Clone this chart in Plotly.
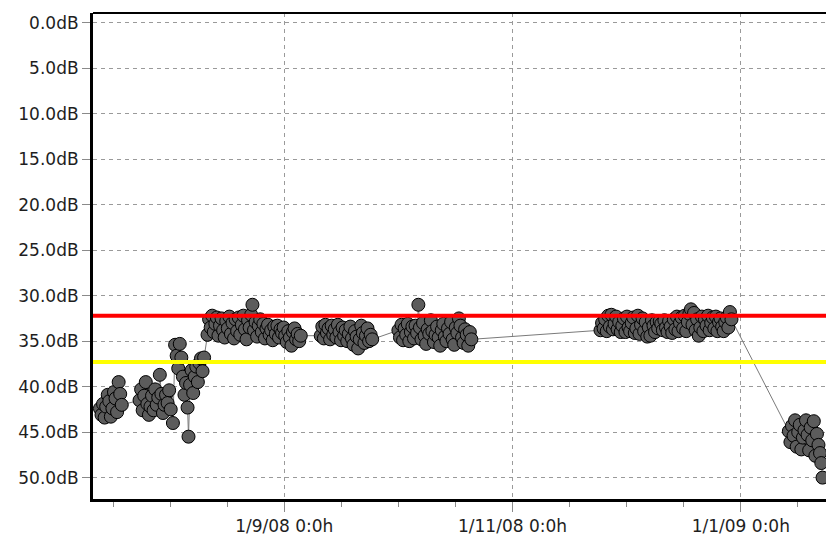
import plotly.graph_objects as go
import pandas as pd

# ---------------- data ----------------
seg1_time = ["2008-07-13 18:00", "2008-07-14 04:00", "2008-07-14 14:00", "2008-07-15 00:00", "2008-07-15 10:00",
             "2008-07-15 20:00", "2008-07-16 06:00", "2008-07-16 16:00", "2008-07-17 02:00", "2008-07-17 12:00",
             "2008-07-17 22:00", "2008-07-18 08:00", "2008-07-18 18:00", "2008-07-19 04:00", "2008-07-19 14:00"]
seg1_db = [42.4, 43.1, 41.9, 43.4, 42.2, 40.9, 41.6, 43.3, 42.4, 40.6, 41.3, 42.8, 39.5, 40.8, 42.0]

seg2_time = ["2008-07-24 08:00", "2008-07-24 18:00", "2008-07-25 04:00", "2008-07-25 14:00", "2008-07-26 00:00",
             "2008-07-26 10:00", "2008-07-26 20:00", "2008-07-27 06:00", "2008-07-27 16:00", "2008-07-28 02:00",
             "2008-07-28 12:00", "2008-07-28 22:00", "2008-07-29 08:00", "2008-07-29 18:00", "2008-07-30 04:00",
             "2008-07-30 14:00", "2008-07-31 00:00", "2008-07-31 10:00", "2008-07-31 20:00", "2008-08-01 06:00",
             "2008-08-01 16:00", "2008-08-02 06:00"]
seg2_db = [41.5, 40.3, 42.6, 41.0, 39.5, 41.9, 43.1, 42.2, 41.0, 42.6, 40.3, 42.0, 41.2, 38.7, 40.8,
           42.9, 42.0, 40.9, 41.8, 40.4, 42.5, 44.0]

seg3_time = ["2008-08-02 20:00", "2008-08-03 06:00", "2008-08-03 16:00", "2008-08-04 02:00", "2008-08-04 12:00",
             "2008-08-04 22:00", "2008-08-05 08:00", "2008-08-05 18:00", "2008-08-06 04:00", "2008-08-06 10:00",
             "2008-08-06 20:00", "2008-08-07 06:00", "2008-08-07 16:00", "2008-08-08 02:00", "2008-08-08 12:00",
             "2008-08-08 22:00", "2008-08-09 08:00", "2008-08-09 18:00", "2008-08-10 04:00", "2008-08-10 14:00"]
seg3_db = [35.4, 36.6, 38.0, 35.3, 36.8, 38.9, 40.9, 39.6, 42.3, 45.5,
           39.8, 38.2, 40.7, 38.9, 37.8, 39.5, 37.4, 36.9, 38.3, 36.8]

seg4_time = ["2008-08-11 12:00", "2008-08-11 22:00", "2008-08-12 08:00", "2008-08-12 18:00", "2008-08-13 04:00",
             "2008-08-13 14:00", "2008-08-14 00:00", "2008-08-14 10:00", "2008-08-14 20:00", "2008-08-15 06:00",
             "2008-08-15 16:00", "2008-08-16 02:00", "2008-08-16 12:00", "2008-08-16 22:00", "2008-08-17 08:00",
             "2008-08-17 18:00", "2008-08-18 04:00", "2008-08-18 14:00", "2008-08-19 00:00", "2008-08-19 10:00",
             "2008-08-19 20:00", "2008-08-20 06:00", "2008-08-20 16:00", "2008-08-21 02:00", "2008-08-21 12:00",
             "2008-08-21 22:00", "2008-08-22 08:00", "2008-08-22 18:00", "2008-08-23 04:00", "2008-08-23 12:00",
             "2008-08-23 22:00", "2008-08-24 08:00", "2008-08-24 18:00", "2008-08-25 04:00", "2008-08-25 14:00",
             "2008-08-26 00:00", "2008-08-26 10:00", "2008-08-26 20:00", "2008-08-27 06:00", "2008-08-27 16:00",
             "2008-08-28 02:00", "2008-08-28 12:00", "2008-08-28 22:00", "2008-08-29 08:00", "2008-08-29 18:00",
             "2008-08-30 04:00", "2008-08-30 14:00", "2008-08-31 00:00", "2008-08-31 10:00", "2008-08-31 20:00",
             "2008-09-01 06:00", "2008-09-01 16:00", "2008-09-02 02:00", "2008-09-02 12:00", "2008-09-02 22:00",
             "2008-09-03 08:00", "2008-09-03 18:00", "2008-09-04 04:00", "2008-09-04 14:00", "2008-09-05 00:00",
             "2008-09-05 10:00"]
seg4_db = [34.3, 32.6, 33.5, 32.2, 34.0, 33.1, 32.4, 34.4, 33.3, 32.5,
           33.8, 34.6, 32.8, 33.6, 32.3, 34.2, 33.0, 34.7, 32.6, 33.9,
           32.4, 34.3, 33.2, 32.2, 33.7, 34.8, 32.7, 33.5, 32.1, 31.0,
           33.8, 32.9, 34.5, 33.3, 32.6, 34.0, 33.1, 34.7, 33.6, 33.2,
           34.3, 33.8, 34.9, 33.4, 34.2, 33.3, 34.6, 33.7, 34.1, 33.5,
           34.4, 35.1, 33.9, 34.6, 35.5, 34.0, 33.6, 34.8, 34.2, 35.0,
           34.4]

seg5_time = ["2008-09-10 18:00", "2008-09-11 04:00", "2008-09-11 14:00", "2008-09-12 00:00", "2008-09-12 10:00",
             "2008-09-12 20:00", "2008-09-13 06:00", "2008-09-13 16:00", "2008-09-14 02:00", "2008-09-14 12:00",
             "2008-09-14 22:00", "2008-09-15 08:00", "2008-09-15 18:00", "2008-09-16 04:00", "2008-09-16 14:00",
             "2008-09-17 00:00", "2008-09-17 10:00", "2008-09-17 20:00", "2008-09-18 06:00", "2008-09-18 16:00",
             "2008-09-19 02:00", "2008-09-19 12:00", "2008-09-19 22:00", "2008-09-20 08:00", "2008-09-20 18:00",
             "2008-09-21 04:00", "2008-09-21 14:00", "2008-09-22 00:00", "2008-09-22 10:00", "2008-09-22 20:00",
             "2008-09-23 06:00", "2008-09-23 16:00", "2008-09-24 02:00", "2008-09-24 12:00"]
seg5_db = [34.4, 33.4, 34.7, 33.2, 34.1, 33.6, 34.8, 33.3, 34.3, 33.7,
           34.6, 33.2, 34.0, 34.9, 33.5, 34.4, 33.8, 35.0, 34.2, 33.4,
           34.7, 35.4, 33.9, 34.5, 35.8, 34.8, 33.3, 34.1, 35.2, 34.4,
           33.6, 35.0, 34.3, 34.8]

seg6_time = ["2008-10-01 12:00", "2008-10-01 22:00", "2008-10-02 08:00", "2008-10-02 18:00", "2008-10-03 04:00",
             "2008-10-03 14:00", "2008-10-04 00:00", "2008-10-04 10:00", "2008-10-04 20:00", "2008-10-05 06:00",
             "2008-10-05 16:00", "2008-10-06 02:00", "2008-10-06 12:00", "2008-10-06 20:00", "2008-10-07 06:00",
             "2008-10-07 16:00", "2008-10-08 02:00", "2008-10-08 12:00", "2008-10-08 22:00", "2008-10-09 08:00",
             "2008-10-09 18:00", "2008-10-10 04:00", "2008-10-10 14:00", "2008-10-11 00:00", "2008-10-11 10:00",
             "2008-10-11 20:00", "2008-10-12 06:00", "2008-10-12 16:00", "2008-10-13 02:00", "2008-10-13 12:00",
             "2008-10-13 22:00", "2008-10-14 08:00", "2008-10-14 18:00", "2008-10-15 04:00", "2008-10-15 14:00",
             "2008-10-16 00:00", "2008-10-16 10:00", "2008-10-16 20:00", "2008-10-17 06:00", "2008-10-17 16:00",
             "2008-10-18 02:00", "2008-10-18 12:00", "2008-10-18 22:00", "2008-10-19 08:00", "2008-10-19 18:00",
             "2008-10-20 04:00", "2008-10-20 14:00", "2008-10-21 00:00"]
seg6_db = [33.8, 34.6, 33.2, 34.9, 33.6, 34.3, 33.1, 35.0, 34.0, 33.4,
           34.7, 33.3, 34.1, 31.0, 33.5, 34.8, 33.0, 34.4, 35.3, 33.7,
           34.2, 32.7, 33.9, 35.1, 34.3, 33.4, 34.6, 35.5, 33.8, 33.1,
           34.5, 35.0, 33.6, 34.2, 32.9, 34.8, 35.4, 33.5, 34.1, 32.5,
           33.3, 34.6, 35.2, 33.7, 34.3, 35.5, 34.0, 34.8]

seg7_time = ["2008-11-24 12:00", "2008-11-24 22:00", "2008-11-25 08:00", "2008-11-25 18:00", "2008-11-26 04:00",
             "2008-11-26 14:00", "2008-11-27 00:00", "2008-11-27 10:00", "2008-11-27 20:00", "2008-11-28 06:00",
             "2008-11-28 16:00", "2008-11-29 02:00", "2008-11-29 12:00", "2008-11-29 22:00", "2008-11-30 08:00",
             "2008-11-30 18:00", "2008-12-01 04:00", "2008-12-01 14:00", "2008-12-02 00:00", "2008-12-02 10:00",
             "2008-12-02 20:00", "2008-12-03 06:00", "2008-12-03 16:00", "2008-12-04 02:00", "2008-12-04 12:00",
             "2008-12-04 22:00", "2008-12-05 08:00", "2008-12-05 18:00", "2008-12-06 04:00", "2008-12-06 14:00",
             "2008-12-07 00:00", "2008-12-07 10:00", "2008-12-07 20:00", "2008-12-08 06:00", "2008-12-08 16:00",
             "2008-12-09 02:00", "2008-12-09 12:00", "2008-12-09 22:00", "2008-12-10 08:00", "2008-12-10 18:00",
             "2008-12-11 04:00", "2008-12-11 14:00", "2008-12-12 00:00", "2008-12-12 10:00", "2008-12-12 20:00",
             "2008-12-13 06:00", "2008-12-13 16:00", "2008-12-14 02:00", "2008-12-14 12:00", "2008-12-14 22:00",
             "2008-12-15 08:00", "2008-12-15 18:00", "2008-12-16 04:00", "2008-12-16 14:00", "2008-12-17 00:00",
             "2008-12-17 10:00", "2008-12-17 20:00", "2008-12-18 06:00", "2008-12-18 16:00", "2008-12-19 02:00",
             "2008-12-19 12:00", "2008-12-19 22:00", "2008-12-20 08:00", "2008-12-20 18:00", "2008-12-21 04:00",
             "2008-12-21 14:00", "2008-12-22 00:00", "2008-12-22 10:00", "2008-12-22 20:00", "2008-12-23 06:00",
             "2008-12-23 16:00", "2008-12-24 02:00", "2008-12-24 12:00", "2008-12-24 22:00", "2008-12-25 08:00",
             "2008-12-25 18:00", "2008-12-26 04:00", "2008-12-26 14:00", "2008-12-27 00:00", "2008-12-27 10:00",
             "2008-12-27 20:00", "2008-12-28 06:00", "2008-12-28 16:00", "2008-12-29 02:00", "2008-12-29 12:00"]
seg7_db = [33.8, 33.0, 33.6, 32.6, 33.9, 32.2, 33.4, 32.1, 33.7, 33.1,
           32.3, 33.7, 32.9, 34.0, 33.3, 32.5, 34.0, 32.3, 33.5, 33.9,
           33.0, 32.4, 34.1, 33.6, 32.2, 34.2, 33.2, 32.5, 33.9, 32.9,
           34.5, 33.5, 34.4, 32.7, 33.3, 34.0, 32.9, 33.6, 32.8, 33.1,
           33.8, 32.7, 33.5, 34.0, 32.8, 33.4, 34.1, 32.6, 33.7, 32.3,
           33.9, 33.0, 32.4, 33.6, 32.2, 33.9, 32.9, 32.0, 31.5, 33.2,
           31.9, 33.8, 32.6, 34.4, 33.5, 32.3, 33.9, 32.6, 33.3, 32.2,
           33.8, 33.0, 32.4, 33.6, 32.3, 33.9, 32.9, 32.5, 33.4, 33.9,
           32.9, 32.4, 33.5, 31.8, 32.6]

seg8_time = ["2009-01-13 20:00", "2009-01-14 06:00", "2009-01-14 16:00", "2009-01-15 02:00", "2009-01-15 12:00",
             "2009-01-15 22:00", "2009-01-16 08:00", "2009-01-16 18:00", "2009-01-17 04:00", "2009-01-17 14:00",
             "2009-01-18 00:00", "2009-01-18 10:00", "2009-01-18 20:00", "2009-01-19 06:00", "2009-01-19 16:00",
             "2009-01-20 02:00", "2009-01-20 12:00", "2009-01-20 22:00", "2009-01-21 08:00", "2009-01-21 18:00",
             "2009-01-22 04:00", "2009-01-22 12:00", "2009-01-22 20:00"]
seg8_db = [44.9, 46.1, 44.3, 45.4, 43.7, 46.6, 45.0, 44.2, 46.9, 45.6,
           44.8, 43.7, 45.3, 47.0, 44.5, 45.9, 43.8, 47.6, 45.2, 46.4,
           47.3, 48.4, 50.0]

red_level_db = 32.2
yellow_level_db = 37.3

y_tick_values = [0, 5, 10, 15, 20, 25, 30, 35, 40, 45, 50]
y_tick_labels = ["0.0dB", "5.0dB", "10.0dB", "15.0dB", "20.0dB", "25.0dB",
                 "30.0dB", "35.0dB", "40.0dB", "45.0dB", "50.0dB"]
x_tick_values = ["2008-09-01", "2008-11-01", "2009-01-01"]
x_tick_labels = ["1/9/08 0:0h", "1/11/08 0:0h", "1/1/09 0:0h"]

# ---------------- figure ----------------
times = seg1_time + seg2_time + seg3_time + seg4_time + seg5_time + seg6_time + seg7_time + seg8_time
values = seg1_db + seg2_db + seg3_db + seg4_db + seg5_db + seg6_db + seg7_db + seg8_db

base = pd.Timestamp("2008-09-01")
minor_vals = [(base + pd.Timedelta(days=15.25 * k)).strftime("%Y-%m-%d %H:%M")
              for k in range(-4, 10) if k % 4 != 0]

fig = go.Figure()
fig.add_trace(go.Scatter(
    x=times, y=values, mode="lines+markers",
    line=dict(color="#7a7a7a", width=1),
    marker=dict(size=13, color="#5c5c5c", line=dict(color="#000000", width=1)),
    showlegend=False, hoverinfo="skip",
))

fig.add_shape(type="line", xref="paper", yref="y", x0=0, x1=1,
              y0=red_level_db, y1=red_level_db, line=dict(color="#ff0000", width=4), layer="above")
fig.add_shape(type="line", xref="paper", yref="y", x0=0, x1=1,
              y0=yellow_level_db, y1=yellow_level_db, line=dict(color="#ffff00", width=4), layer="above")
fig.add_shape(type="line", xref="paper", yref="paper", x0=0, x1=1, y0=1, y1=1,
              line=dict(color="#000000", width=2), layer="above")

yfont = dict(family="DejaVu Sans", size=17, color="#1e1e1e")
xfont = dict(family="DejaVu Sans", size=17, color="#1e1e1e")

# the page body adds an 8px offset, so the figure is sized to the remaining viewport
fig.update_layout(
    width=826, height=529,
    margin=dict(l=85, r=0, t=5, b=38, autoexpand=False),
    paper_bgcolor="white", plot_bgcolor="white",
    font=yfont,
    xaxis=dict(
        type="date",
        range=["2008-07-11 21:30", "2009-01-25 21:30"],
        tickmode="array", tickvals=x_tick_values, ticktext=x_tick_labels,
        ticks="outside", ticklen=10, tickcolor="#8a8a8a", tickwidth=1,
        showgrid=True, gridcolor="#9a9a9a", griddash="4px,4px", gridwidth=1,
        showline=True, linecolor="#000000", linewidth=3,
        zeroline=False, tickfont=xfont, ticklabelstandoff=0,
        minor=dict(tickmode="array", tickvals=minor_vals, ticks="outside",
                   ticklen=5, tickcolor="#8a8a8a", showgrid=False),
    ),
    yaxis=dict(
        range=[52.35, -1.07],
        tickmode="array", tickvals=y_tick_values, ticktext=y_tick_labels,
        ticks="outside", ticklen=8, tickcolor="#8a8a8a", tickwidth=1,
        showgrid=True, gridcolor="#9a9a9a", griddash="4px,4px", gridwidth=1,
        showline=True, linecolor="#000000", linewidth=3,
        zeroline=False, tickfont=yfont,
    ),
)

fig.write_html("out.html")
